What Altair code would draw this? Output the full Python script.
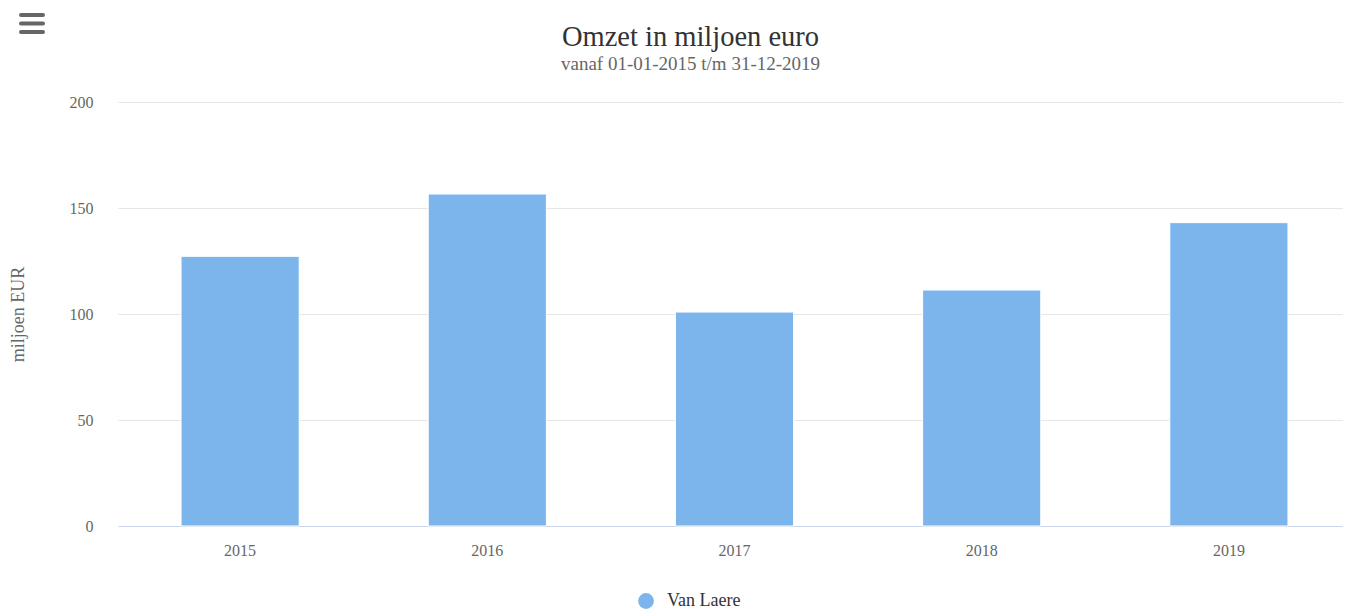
import altair as alt
import pandas as pd

# ---- data ----
years = ["2015", "2016", "2017", "2018", "2019"]
omzet = [127.2, 156.6, 100.9, 111.3, 143.1]
series_name = "Van Laere"
y_ticks = [0, 50, 100, 150, 200]

title_text = "Omzet in miljoen euro"
subtitle_text = "vanaf 01-01-2015 t/m 31-12-2019"
y_title = "miljoen EUR"

df = pd.DataFrame({"jaar": years, "omzet": omzet, "reeks": [series_name] * len(years)})

FONT = "Liberation Serif"
BAR = "#7cb5ec"

bars = alt.Chart(df).mark_bar(stroke="white", strokeWidth=1).encode(
    x=alt.X(
        "jaar:N",
        sort=years,
        scale=alt.Scale(range=[0, 1233], paddingInner=0.522, paddingOuter=0.255),
        axis=alt.Axis(
            title=None, labelAngle=0, labelFont=FONT, labelFontSize=16,
            labelColor="#666666", domainColor="#ccd6eb", domainWidth=1,
            ticks=False, labelPadding=16, grid=False,
        ),
    ),
    y=alt.Y(
        "omzet:Q",
        scale=alt.Scale(domain=[0, 200], nice=False),
        axis=alt.Axis(
            values=y_ticks, title=y_title, titleAngle=270, titleX=-95, titleY=212,
            titleAlign="center", titleBaseline="alphabetic", titleFont=FONT,
            titleFontSize=18, titleFontWeight="normal", titleColor="#666666",
            labelFont=FONT, labelFontSize=16, labelColor="#666666", labelPadding=25,
            domain=False, ticks=False, gridColor="#e6e6e6", gridWidth=1,
        ),
    ),
    color=alt.Color(
        "reeks:N",
        scale=alt.Scale(range=[BAR]),
        legend=alt.Legend(
            title=None, orient="none", legendX=519, legendY=490,
            symbolType="circle", symbolSize=250, symbolStrokeWidth=0,
            labelFont=FONT, labelFontSize=18, labelColor="#333333",
            labelOffset=12, padding=0,
        ),
    ),
)

# export-menu (hamburger) icon at the top left
icon_layers = []
for yy in (-87, -78.5, -70):
    icon_layers.append(
        alt.Chart(pd.DataFrame({"k": [0]})).mark_rule(
            strokeWidth=4, strokeCap="round", color="#666666"
        ).encode(x=alt.value(-97), x2=alt.value(-75), y=alt.value(yy))
    )

chart = alt.layer(bars, *icon_layers).properties(
    width=1225,
    height=424,
    background="white",
    autosize=alt.AutoSizeParams(type="none"),
    padding={"left": 110, "top": 94, "right": 0, "bottom": 84},
    title=alt.TitleParams(
        text=title_text, subtitle=subtitle_text, font=FONT, fontSize=28.5,
        fontWeight="normal", color="#333333", subtitleFont=FONT,
        subtitleFontSize=19, subtitleColor="#666666", anchor="middle",
        frame="group", dx=-40, dy=61, offset=0, subtitlePadding=4,
    ),
).configure_view(stroke=None)

chart.save("out.html", embed_options={"renderer": "svg", "actions": False})
